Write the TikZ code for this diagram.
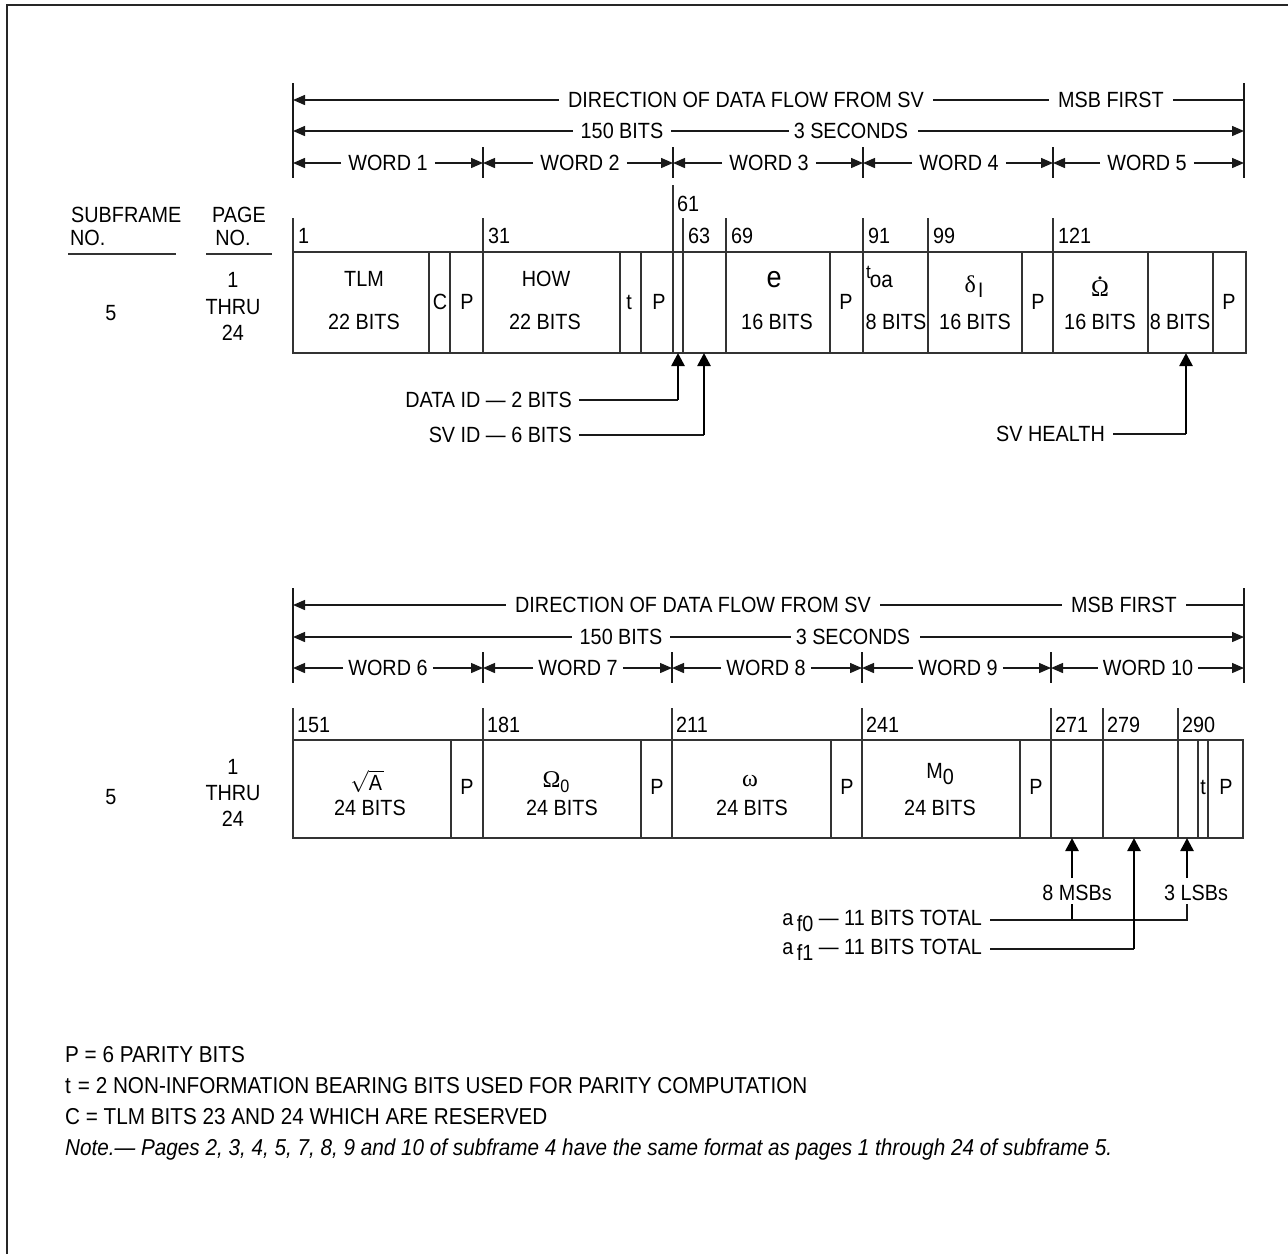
\RequirePackage{fix-cm}
\documentclass[tikz,border=0pt]{standalone}
\usepackage{fontspec}
\setmainfont[FakeStretch=0.9]{Liberation Sans}
\newfontfamily\grk{Liberation Serif}
\usetikzlibrary{arrows.meta}
\newcommand\fs{\fontsize{22}{26}\selectfont}
\newcommand\gs{\grk\fontsize{24}{26}\selectfont}
\newcommand\lowr[2]{\raisebox{-#1pt}{#2}}
\begin{document}
\begin{tikzpicture}[x=1pt,y=-1pt,
  txt/.style={inner sep=0pt, font=\fs, text height=15.8pt, text depth=0pt},
  ltxt/.style={inner sep=0pt, font=\fontsize{23}{27}\selectfont, text height=16.5pt, text depth=0pt, anchor=west},
  btxt/.style={inner sep=0pt, font=\fs, anchor=base},
  dimline/.style={line width=1.4pt, draw=black!90},
  tip/.style={-{Triangle[length=12pt,width=10pt]}},
  field/.style={line width=1.5pt, draw=black!80},
  pointer/.style={line width=2.6pt, draw=black, -{Triangle[length=13pt,width=13pt]}},
  stem/.style={line width=2.6pt, draw=black},
  lead/.style={line width=1.4pt, draw=black!90},
]
\useasboundingbox (0,0) rectangle (1288,1254);
\draw[line width=2pt, black!85] (7,1254) -- (7,5) -- (1288,5);

% ================= TOP HEADER =================
\foreach \x in {293,1244} \draw[dimline] (\x,83) -- (\x,178);
\foreach \x in {483,673,863,1053} \draw[dimline] (\x,147) -- (\x,178);
\node[txt] (adir) at (746,100) {DIRECTION OF DATA FLOW FROM SV};
\node[txt] (amsb) at (1111,100) {MSB FIRST};
\coordinate (aL1) at (293,100); \coordinate (aR1) at (1244,100);
\draw[dimline,tip] ([xshift=-9pt]adir.west) -- (aL1);
\draw[dimline] ([xshift=9pt]adir.east) -- ([xshift=-9pt]amsb.west);
\draw[dimline] ([xshift=9pt]amsb.east) -- (aR1);
\node[txt] (abits) at (622,131) {150 BITS};
\node[txt] (asec) at (851,131) {3 SECONDS};
\coordinate (aL2) at (293,131); \coordinate (aR2) at (1244,131);
\draw[dimline,tip] ([xshift=-8pt]abits.west) -- (aL2);
\draw[dimline] ([xshift=8pt]abits.east) -- ([xshift=-5pt]asec.west);
\draw[dimline,tip] ([xshift=10pt]asec.east) -- (aR2);
\foreach \i/\cx/\l/\r in {1/388/293/483,2/580/483/673,3/769/673/863,4/959/863/1053,5/1147/1053/1244}{
  \node[txt] (aw\i) at (\cx,163) {WORD \i};
  \coordinate (aw\i L) at (\l,163); \coordinate (aw\i R) at (\r,163);
  \draw[dimline,tip] ([xshift=-7pt]aw\i.west) -- (aw\i L);
  \draw[dimline,tip] ([xshift=7pt]aw\i.east) -- (aw\i R);
}

% ================= LEFT LABELS =================
\node[txt,anchor=west] (sf1) at (71,215) {SUBFRAME};
\node[txt,anchor=west] (sf2) at (70,238) {NO.};
\draw[field] (68,254) -- (176,254);
\node[txt] (pg1) at (239,215) {PAGE};
\node[txt] (pg2) at (233,238) {NO.};
\draw[field] (206,254) -- (272,254);
\node[txt] (sfa) at (111,313) {5};
\node[txt] (pa1) at (233,280) {1};
\node[txt] (pa2) at (233,307) {THRU};
\node[txt] (pa3) at (233,333) {24};
\node[txt] (sfb) at (111,797) {5};
\node[txt] (pb1) at (233,767) {1};
\node[txt] (pb2) at (233,793) {THRU};
\node[txt] (pb3) at (233,819) {24};

% ================= TOP BOX =================
\draw[field] (293,252) rectangle (1246,353);
\foreach \x in {429,450,483,620,641,673,683,726,830,863,928,1022,1053,1148,1213}
  \draw[field] (\x,252) -- (\x,353);
\foreach \x/\n in {293/1,483/31,683/63,726/69,863/91,928/99,1053/121}{
  \draw[field] (\x,218) -- (\x,252);
  \node[txt,anchor=west] (abit\n) at ({\x+5},236) {\n};
}
\draw[field] (673,185) -- (673,252);
\node[txt,anchor=west] (abit61) at (677,204) {61};

\node[txt] (tlm) at (364,279) {TLM};
\node[txt] (tlmb) at (364,322) {22 BITS};
\node[txt] (cc) at (440,302) {C};
\node[txt] (p1) at (467,302) {P};
\node[txt] (how) at (546,279) {HOW};
\node[txt] (howb) at (545,322) {22 BITS};
\node[txt] (tt1) at (629,302) {t};
\node[txt] (p2) at (659,302) {P};
\node[btxt] (ee) at (774,287) {\fontsize{30}{32}\selectfont e};
\node[txt] (eb) at (777,322) {16 BITS};
\node[txt] (p3) at (846,302) {P};
\node[btxt,anchor=base west] (toa) at (866,278) {\fontsize{19}{20}\selectfont t\kern-1pt\lowr{9}{\fontsize{23}{24}\selectfont oa}};
\node[txt] (toab) at (896,322) {8 BITS};
\node[btxt] (di) at (974,292) {{\gs δ}\kern2pt\lowr{5}{\fontsize{21}{22}\selectfont I}};
\node[txt] (dib) at (975,322) {16 BITS};
\node[txt] (p4) at (1038,302) {P};
\node[btxt] (od) at (1100,296) {\gs\ooalign{Ω\cr\hidewidth\raisebox{17pt}{\fontsize{26}{26}\selectfont .}\hidewidth\cr}};
\node[txt] (odb) at (1100,322) {16 BITS};
\node[txt] (svh) at (1180,322) {8 BITS};
\node[txt] (p5) at (1229,302) {P};

% pointers under top box
\coordinate (didtip) at (678,353); \coordinate (didc) at (678,400);
\coordinate (svidtip) at (704,353); \coordinate (svidc) at (704,435);
\coordinate (svhtip) at (1186,353); \coordinate (svhc) at (1186,434);
\node[txt,anchor=east] (did) at (572,400) {DATA ID --- 2 BITS};
\node[txt,anchor=east] (svid) at (572,435) {SV ID --- 6 BITS};
\node[txt,anchor=east] (svhl) at (1105,434) {SV HEALTH};
\draw[lead] ([xshift=7pt]did.east) -- (didc);
\draw[pointer] (didc) -- (didtip);
\draw[lead] ([xshift=7pt]svid.east) -- (svidc);
\draw[pointer] (svidc) -- (svidtip);
\draw[lead] ([xshift=8pt]svhl.east) -- (svhc);
\draw[pointer] (svhc) -- (svhtip);

% ================= BOTTOM HEADER =================
\foreach \x in {293,1244} \draw[dimline] (\x,588) -- (\x,683);
\foreach \x in {483,672,862,1051} \draw[dimline] (\x,652) -- (\x,683);
\node[txt] (bdir) at (693,605) {DIRECTION OF DATA FLOW FROM SV};
\node[txt] (bmsb) at (1124,605) {MSB FIRST};
\coordinate (bL1) at (293,605); \coordinate (bR1) at (1244,605);
\draw[dimline,tip] ([xshift=-9pt]bdir.west) -- (bL1);
\draw[dimline] ([xshift=9pt]bdir.east) -- ([xshift=-9pt]bmsb.west);
\draw[dimline] ([xshift=9pt]bmsb.east) -- (bR1);
\node[txt] (bbits) at (621,637) {150 BITS};
\node[txt] (bsec) at (853,637) {3 SECONDS};
\coordinate (bL2) at (293,637); \coordinate (bR2) at (1244,637);
\draw[dimline,tip] ([xshift=-8pt]bbits.west) -- (bL2);
\draw[dimline] ([xshift=8pt]bbits.east) -- ([xshift=-5pt]bsec.west);
\draw[dimline,tip] ([xshift=10pt]bsec.east) -- (bR2);
\foreach \i/\cx/\l/\r in {6/388/293/483,7/578/483/672,8/766/672/862,9/958/862/1051,10/1148/1051/1244}{
  \node[txt] (bw\i) at (\cx,668) {WORD \i};
  \coordinate (bw\i L) at (\l,668); \coordinate (bw\i R) at (\r,668);
  \draw[dimline,tip] ([xshift=-5pt]bw\i.west) -- (bw\i L);
  \draw[dimline,tip] ([xshift=5pt]bw\i.east) -- (bw\i R);
}

% ================= BOTTOM BOX =================
\draw[field] (293,740) rectangle (1243,838);
\foreach \x in {451,483,641,672,831,862,1020,1051,1103,1178,1198,1208}
  \draw[field] (\x,740) -- (\x,838);
\foreach \x/\n in {293/151,483/181,672/211,862/241,1051/271,1103/279,1178/290}{
  \draw[field] (\x,708) -- (\x,740);
  \node[txt,anchor=west] (bbit\n) at ({\x+4},725) {\n};
}
\node[btxt] (sqa) at (367,790) {\fontsize{22}{24}\selectfont$\sqrt{\mathrm{A}}$};
\node[txt] (sqab) at (370,808) {24 BITS};
\node[txt] (q1) at (467,787) {P};
\node[btxt] (om0) at (556,787) {{\gs Ω}\lowr{5}{\fontsize{18}{20}\selectfont 0}};
\node[txt] (om0b) at (562,808) {24 BITS};
\node[txt] (q2) at (657,787) {P};
\node[btxt] (omg) at (750,786) {\gs ω};
\node[txt] (omgb) at (752,808) {24 BITS};
\node[txt] (q3) at (847,787) {P};
\node[btxt] (m0) at (940,778) {M\lowr{6}{0}};
\node[txt] (m0b) at (940,808) {24 BITS};
\node[txt] (q4) at (1036,787) {P};
\node[txt] (tt2) at (1203,787) {t};
\node[txt] (q5) at (1226,787) {P};

% pointers under bottom box
\coordinate (msbtip) at (1072,838); \coordinate (msbs) at (1072,878);
\coordinate (msbj1) at (1072,904); \coordinate (msbj2) at (1072,920);
\coordinate (lsbtip) at (1187,838); \coordinate (lsbs) at (1187,878);
\coordinate (lsbj1) at (1187,904); \coordinate (lsbj2) at (1187,920);
\coordinate (af1tip) at (1134,838); \coordinate (af1c) at (1134,949);
\node[txt] (msbl) at (1077,893) {8 MSBs};
\node[txt] (lsbl) at (1196,893) {3 LSBs};
\node[txt,anchor=east] (af0) at (982,918) {a\,\lowr{6}{f0} --- 11 BITS TOTAL};
\node[txt,anchor=east] (af1) at (982,947) {a\,\lowr{6}{f1} --- 11 BITS TOTAL};
\draw[pointer] (msbs) -- (msbtip);
\draw[stem] (msbj1) -- (msbj2);
\draw[pointer] (lsbs) -- (lsbtip);
\draw[lead] (lsbj1) -- (lsbj2) -- ([xshift=8pt]af0.east |- lsbj2);
\draw[lead] ([xshift=8pt]af1.east |- af1c) -- (af1c);
\draw[pointer] (af1c) -- (af1tip);

% ================= LEGEND =================
\node[ltxt] (legp) at (65,1054) {P = 6 PARITY BITS};
\node[ltxt] (legt) at (65,1085) {t\hspace{7pt}= 2 NON-INFORMATION BEARING BITS USED FOR PARITY COMPUTATION};
\node[ltxt] (legc) at (65,1116) {C = TLM BITS 23 AND 24 WHICH ARE RESERVED};
\node[ltxt] (legn) at (65,1147) {\itshape Note.--- Pages 2, 3, 4, 5, 7, 8, 9 and 10 of subframe 4 have the same format as pages 1 through 24 of subframe 5.};
\end{tikzpicture}
\end{document}
